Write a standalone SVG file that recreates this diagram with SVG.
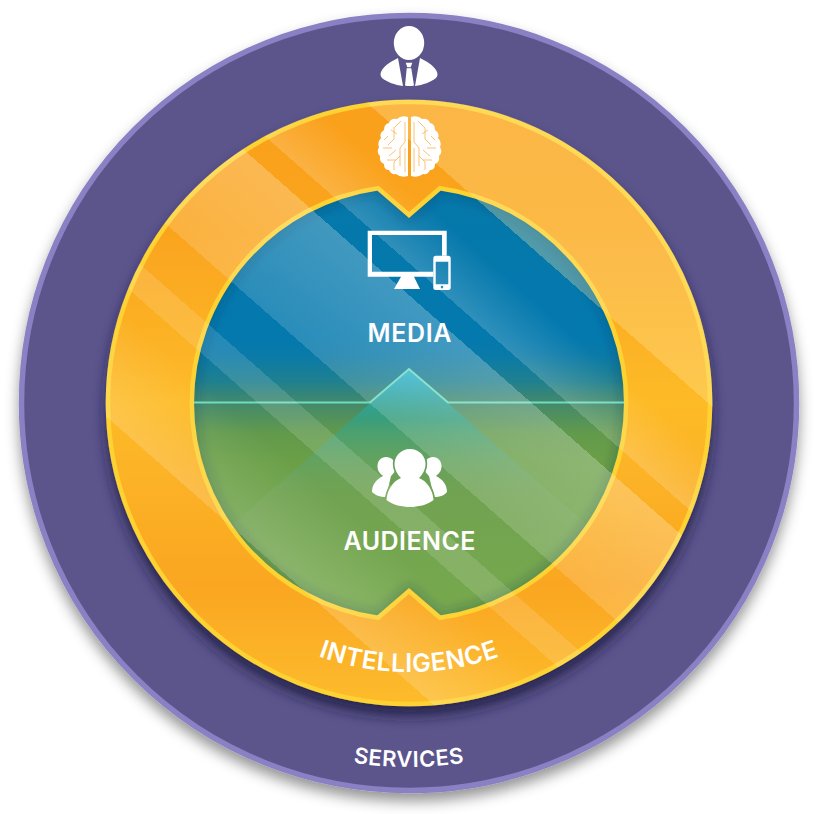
<svg xmlns="http://www.w3.org/2000/svg" width="814" height="814" viewBox="0 0 814 814">
  <style>
    .label { font-family: "Inter", "Liberation Sans", sans-serif; font-weight: 600; fill: #fff; }
    .icon { fill: #fff; }
    .trace { fill: none; stroke: #f9bb62; stroke-width: .9; }
  </style>
  <defs>
    <filter id="discShadow" x="-10%" y="-10%" width="120%" height="125%">
      <feDropShadow dx="0" dy="8" stdDeviation="7" flood-color="#000" flood-opacity=".42"/>
    </filter>
    <filter id="ringShadow" x="-10%" y="-10%" width="120%" height="125%">
      <feDropShadow dx="0" dy="10" stdDeviation="7" flood-color="#1d1a3c" flood-opacity=".8"/>
    </filter>
    <filter id="soft" x="-20%" y="-20%" width="140%" height="140%">
      <feGaussianBlur stdDeviation="6"/>
    </filter>
    <linearGradient id="ringFill" x1="0" y1="100" x2="0" y2="706" gradientUnits="userSpaceOnUse">
      <stop offset="0" stop-color="#faa01f"/>
      <stop offset=".22" stop-color="#faa41f"/>
      <stop offset=".5" stop-color="#fdbb28"/>
      <stop offset=".8" stop-color="#faa622"/>
      <stop offset="1" stop-color="#fdbc2c"/>
    </linearGradient>
    <linearGradient id="coreFill" x1="0" y1="186" x2="0" y2="620" gradientUnits="userSpaceOnUse">
      <stop offset="0" stop-color="#0678aa"/>
      <stop offset=".35" stop-color="#0479ae"/>
      <stop offset=".39" stop-color="#0a7aa8"/>
      <stop offset=".45" stop-color="#1f8090"/>
      <stop offset=".5" stop-color="#43896a"/>
      <stop offset=".57" stop-color="#629a4c"/>
      <stop offset=".63" stop-color="#6a9f47"/>
      <stop offset="1" stop-color="#74a84a"/>
    </linearGradient>
    <linearGradient id="peakFill" x1="0" y1="369" x2="0" y2="620" gradientUnits="userSpaceOnUse">
      <stop offset="0" stop-color="#30b8d8" stop-opacity=".95"/>
      <stop offset=".2" stop-color="#28a690" stop-opacity=".62"/>
      <stop offset=".5" stop-color="#82a878" stop-opacity=".2"/>
      <stop offset="1" stop-color="#98b878" stop-opacity=".06"/>
    </linearGradient>
    <!-- Diagonal glass bands: one hard-stopped ramp across the whole badge -->
    <linearGradient id="glass" x1="579.1" y1="209.7" x2="232" y2="604.1" gradientUnits="userSpaceOnUse">
      <stop offset="0" stop-color="#ffeaa6" stop-opacity=".3"/>
      <stop offset=".114" stop-color="#ffeaa6" stop-opacity=".3"/>
      <stop offset=".114" stop-color="#fff" stop-opacity="0"/>
      <stop offset=".186" stop-color="#fff" stop-opacity="0"/>
      <stop offset=".29" stop-color="#fff" stop-opacity=".17"/>
      <stop offset=".29" stop-color="#fff" stop-opacity="0"/>
      <stop offset=".336" stop-color="#fff" stop-opacity="0"/>
      <stop offset=".336" stop-color="#fff" stop-opacity=".24"/>
      <stop offset=".43" stop-color="#fff" stop-opacity=".2"/>
      <stop offset=".54" stop-color="#fff" stop-opacity=".15"/>
      <stop offset=".54" stop-color="#fff" stop-opacity="0"/>
      <stop offset=".63" stop-color="#fff" stop-opacity="0"/>
      <stop offset=".63" stop-color="#fff" stop-opacity=".13"/>
      <stop offset=".68" stop-color="#fff" stop-opacity=".13"/>
      <stop offset=".68" stop-color="#fff" stop-opacity="0"/>
      <stop offset=".72" stop-color="#fff" stop-opacity="0"/>
      <stop offset=".89" stop-color="#fff" stop-opacity=".17"/>
      <stop offset=".89" stop-color="#fff" stop-opacity="0"/>
      <stop offset="1" stop-color="#fff" stop-opacity="0"/>
    </linearGradient>
    <path id="coreShape" d="M378,188.2 L409,215 L440,188.2 A217,217 0 0 1 440,617.8 L409,591 L378,617.8 A217,217 0 0 1 378,188.2 Z"/>
    <clipPath id="coreClip"><use href="#coreShape"/></clipPath>
    <clipPath id="badgeClip"><circle cx="409" cy="403" r="303.5"/></clipPath>
    <path id="intelArc" d="M140,403 A269,269 0 0 0 678,403"/>
    <path id="servArc" d="M45,403 A364,364 0 0 0 773,403"/>
    <path id="frontPerson" d="M410,449 C419,449 425.5,456 425.5,464 C425.5,470 422,475 419,478 C427,481 433,490 433.5,500 C427,505 418,507 410,507 C402,507 393,505 386.5,500 C387,490 393,481 401,478 C398,475 394.5,470 394.5,464 C394.5,456 401,449 410,449 Z"/>
    <mask id="behindFront" maskUnits="userSpaceOnUse" x="360" y="440" width="100" height="80">
      <rect x="360" y="440" width="100" height="80" fill="#fff"/>
      <use href="#frontPerson" fill="#000" stroke="#000" stroke-width="3.4"/>
    </mask>
    <g id="brainLobe">
      <path class="icon" d="M408,117 Q401,115 397,119 Q391,118 389,123 Q384,124 384,130 Q379,133 381,138 Q377,142 379,147 Q376,153 380,156 Q379,162 384,164 Q384,170 389,170 Q391,175 396,174 Q401,178 408,176 Z"/>
      <path class="trace" d="M405,122 V142 L400,148 V166 M401,121 L394,128 V139 L388,145 M397,134 L391,130 M405,148 V172 M396,150 L389,156 M400,156 L394,162 V170 M392,148 H383 M388,136 L384,140 M396,160 H387"/>
    </g>
  </defs>

  <g id="services">
    <circle cx="409" cy="403" r="387.5" fill="#5c558c" stroke="#8a80c4" stroke-width="5.5" filter="url(#discShadow)"/>
    <text class="label" font-size="22" letter-spacing=".6"><textPath href="#servArc" startOffset="50%" text-anchor="middle">SERVICES</textPath></text>
    <g id="person-icon" class="icon">
      <ellipse cx="409" cy="43" rx="15.2" ry="17"/>
      <path d="M398,58 C392,61 385,65 382,70 C380,73 380,76 382,78 C387,82 395,85 403,86 Z"/>
      <path d="M420,58 C426,61 433,65 436,70 C438,73 438,76 436,78 C431,82 423,85 415,86 Z"/>
      <path d="M405.7,62.7 H412.3 L410.7,67.3 H407.3 Z M406.7,68.3 H411.3 L414,85.5 Q409.5,86.5 405,85.5 Z"/>
    </g>
  </g>

  <g id="intelligence">
    <circle cx="409" cy="403" r="301" fill="url(#ringFill)" stroke="#fdd233" stroke-width="4.5" filter="url(#ringShadow)"/>
  </g>

  <g id="core">
    <use href="#coreShape" fill="url(#coreFill)"/>
    <g clip-path="url(#coreClip)">
      <path d="M409,369 L690,615 L409,860 L130,615 Z" fill="url(#peakFill)"/>
      <use href="#coreShape" fill="none" stroke="#0a2c4a" stroke-opacity=".32" stroke-width="9" filter="url(#soft)"/>
    </g>
    <path d="M192,402.5 H370 L409,369 L448,402.5 H626" fill="none" stroke="#6fdcc0" stroke-width="2"/>
    <use href="#coreShape" fill="none" stroke="#fdd233" stroke-width="4.5"/>
  </g>

  <rect id="glass-bands" x="100" y="95" width="620" height="620" fill="url(#glass)" clip-path="url(#badgeClip)"/>

  <g id="brain-icon">
    <use href="#brainLobe"/>
    <use href="#brainLobe" transform="translate(819,0) scale(-1,1)"/>
  </g>

  <g id="media">
    <path class="icon" fill-rule="evenodd" d="M367.7,230.7 H446.7 V255.7 H442 V235 H372 V271.7 H433.3 V276.7 H414 L420,289 H394 L401,276.7 H367.7 Z"/>
    <path class="icon" fill-rule="evenodd" d="M435.8,255.7 H448.2 Q450.7,255.7 450.7,258.2 V287.5 Q450.7,290 448.2,290 H435.8 Q433.3,290 433.3,287.5 V258.2 Q433.3,255.7 435.8,255.7 Z M435.7,261.7 V284.3 H448.3 V261.7 Z M442,285.8 A1.3,1.3 0 1 0 442,288.4 A1.3,1.3 0 1 0 442,285.8 Z"/>
    <text class="label" x="409.5" y="342" font-size="25" text-anchor="middle" textLength="84" lengthAdjust="spacing">MEDIA</text>
  </g>

  <g id="audience">
    <g class="icon" mask="url(#behindFront)">
      <path d="M386,457 C391,457 396,461 396,467 C396,471 393,474 391,476 L386,497 C380,497 375,495 372,492 C372,484 377,479 383,476 C379,473 377.500,470 377.500,466 C377.500,461 381,457 386,457 Z"/>
      <path d="M433,457 C428,457 424,461 424,467 C424,471 427,474 429,476 L434,497 C440,497 445,495 447,492 C447,484 442,479 436,476 C440,473 441.500,470 441.500,466 C441.500,461 438,457 433,457 Z"/>
    </g>
    <use href="#frontPerson" class="icon"/>
    <text class="label" x="409.5" y="550" font-size="25" text-anchor="middle" textLength="132" lengthAdjust="spacing">AUDIENCE</text>
  </g>

  <text id="intelligence-label" class="label" font-size="25" letter-spacing=".5"><textPath href="#intelArc" startOffset="50%" text-anchor="middle">INTELLIGENCE</textPath></text>
</svg>
